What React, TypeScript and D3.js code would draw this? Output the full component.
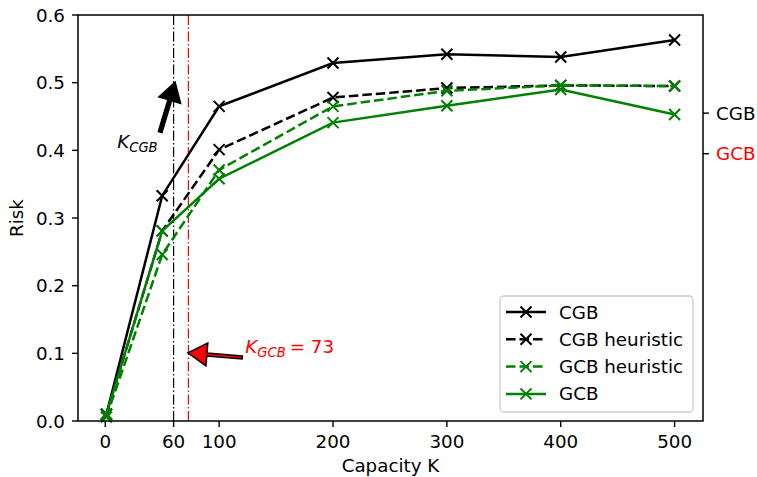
import React from "react";
import * as d3 from "d3";

// capacity values on the x axis
const capacities = [1, 50, 100, 200, 300, 400, 500];
const cgb = [0.01, 0.333, 0.465, 0.529, 0.542, 0.538, 0.563];
const cgbHeuristic = [0.01, 0.281, 0.401, 0.478, 0.492, 0.496, 0.495];
const gcbHeuristic = [0.006, 0.246, 0.371, 0.465, 0.488, 0.496, 0.495];
const gcb = [0.01, 0.281, 0.358, 0.441, 0.466, 0.49, 0.453];

const xTicks = [0, 60, 100, 200, 300, 400, 500];
const yTicks = [0, 0.1, 0.2, 0.3, 0.4, 0.5, 0.6];
const rightTicks = [0.455, 0.395];
const rightTickLabels = ["CGB", "GCB"];
const rightTickColors = ["black", "red"];
const kCgb = 60;
const kGcb = 73;

const seriesNames = ["CGB", "CGB heuristic", "GCB heuristic", "GCB"];
const seriesValues = [cgb, cgbHeuristic, gcbHeuristic, gcb];
const seriesColors = ["black", "black", "green", "green"];
const seriesDashed = [false, true, true, false];

const W = 757;
const H = 477;
const FONT = "DejaVu Sans";
const FS = 18.3;

const x = d3.scaleLinear().domain([-23.95, 524.95]).range([78, 703]);
const y = d3.scaleLinear().domain([0, 0.6]).range([421, 15]);

const markerPath = "M-5.5,-5.5L5.5,5.5M-5.5,5.5L5.5,-5.5";

function arrowPoints(tail, tip, shaftW, headW, headL) {
  const dx = tip[0] - tail[0];
  const dy = tip[1] - tail[1];
  const len = Math.hypot(dx, dy);
  const ux = dx / len, uy = dy / len;
  const px = -uy, py = ux;
  const bx = tip[0] - ux * headL, by = tip[1] - uy * headL;
  const pts = [
    [tail[0] + px * shaftW / 2, tail[1] + py * shaftW / 2],
    [bx + px * shaftW / 2, by + py * shaftW / 2],
    [bx + px * headW / 2, by + py * headW / 2],
    tip,
    [bx - px * headW / 2, by - py * headW / 2],
    [bx - px * shaftW / 2, by - py * shaftW / 2],
    [tail[0] - px * shaftW / 2, tail[1] - py * shaftW / 2],
  ];
  return pts.map((p) => p.join(",")).join(" ");
}

const App = () => {
  const line = d3
    .line<number>()
    .x((d, i) => x(capacities[i]))
    .y((d) => y(d));

  const blackTail = [x(48.2), y(0.427)];
  const blackTip = [x(61.4), y(0.501)];
  const redTail = [x(120.3), y(0.094)];
  const redTip = [x(72.6), y(0.1006)];

  return (
    <svg
      width={W}
      height={H}
      style={{ position: "absolute", left: 0, top: 0, background: "white" }}
      fontFamily={FONT}
      fontSize={FS}
    >
      {/* vertical markers for K */}
      <line x1={x(kCgb)} x2={x(kCgb)} y1={y(0)} y2={y(0.6)} stroke="black" strokeWidth={1.2} strokeDasharray="10,2.5,1.5,2.5" />
      <line x1={x(kGcb)} x2={x(kGcb)} y1={y(0)} y2={y(0.6)} stroke="red" strokeWidth={1.2} strokeDasharray="10,2.5,1.5,2.5" />

      {seriesValues.map((vals, si) => (
        <g key={seriesNames[si]}>
          <path
            d={line(vals)}
            fill="none"
            stroke={seriesColors[si]}
            strokeWidth={2.5}
            strokeDasharray={seriesDashed[si] ? "9.5,4" : undefined}
          />
          {vals.map((v, i) => (
            <path
              key={i}
              d={markerPath}
              transform={`translate(${x(capacities[i])},${y(v)})`}
              stroke={seriesColors[si]}
              strokeWidth={2}
              fill="none"
            />
          ))}
        </g>
      ))}

      {/* frame */}
      <rect x={78} y={15} width={625} height={406} fill="none" stroke="black" strokeWidth={1.5} />

      {/* left axis */}
      {yTicks.map((t) => (
        <g key={t}>
          <line x1={72} x2={78} y1={y(t)} y2={y(t)} stroke="black" strokeWidth={1.4} />
          <text x={65} y={y(t)} dy="0.36em" textAnchor="end">{t.toFixed(1)}</text>
        </g>
      ))}
      <text transform={`translate(23,${(y(0) + y(0.6)) / 2}) rotate(-90)`} textAnchor="middle">Risk</text>

      {/* bottom axis */}
      {xTicks.map((t) => (
        <g key={t}>
          <line x1={x(t)} x2={x(t)} y1={421} y2={427} stroke="black" strokeWidth={1.4} />
          <text x={x(t)} y={448} textAnchor="middle">{t}</text>
        </g>
      ))}
      <text x={(78 + 703) / 2} y={472} textAnchor="middle">Capacity K</text>

      {/* right axis */}
      {rightTicks.map((t, i) => (
        <g key={t}>
          <line x1={703} x2={709} y1={y(t)} y2={y(t)} stroke="black" strokeWidth={1.4} />
          <text x={716} y={y(t)} dy="0.36em" fill={rightTickColors[i]}>{rightTickLabels[i]}</text>
        </g>
      ))}

      {/* annotations */}
      <polygon points={arrowPoints(blackTail, blackTip, 4, 23, 19)} fill="black" stroke="black" strokeWidth={1.3} strokeLinejoin="miter" />
      <text x={x(10.5)} y={y(0.4034)}>
        <tspan fontStyle="italic">K</tspan>
        <tspan fontStyle="italic" fontSize={FS * 0.72} dy={4}>CGB</tspan>
      </text>

      <polygon points={arrowPoints(redTail, redTip, 3, 23, 19)} fill="red" stroke="black" strokeWidth={1.5} strokeLinejoin="miter" />
      <text x={x(123)} y={y(0.1)} fill="red">
        <tspan fontStyle="italic">K</tspan>
        <tspan fontStyle="italic" fontSize={FS * 0.72} dy={4}>GCB</tspan>
        <tspan dy={-4} dx={4}>= 73</tspan>
      </text>

      {/* legend */}
      <rect x={500} y={296} width={193} height={116} rx={4} fill="white" fillOpacity={0.8} stroke="#cccccc" strokeWidth={1.3} />
      {seriesNames.map((name, i) => {
        const ry = 312 + i * 27.3;
        return (
          <g key={name}>
            <line x1={506} x2={546} y1={ry} y2={ry} stroke={seriesColors[i]} strokeWidth={2.5} strokeDasharray={seriesDashed[i] ? "9.5,4" : undefined} />
            <path d={markerPath} transform={`translate(526,${ry})`} stroke={seriesColors[i]} strokeWidth={2} fill="none" />
            <text x={559} y={ry} dy="0.36em">{name}</text>
          </g>
        );
      })}
    </svg>
  );
};

export default App;
